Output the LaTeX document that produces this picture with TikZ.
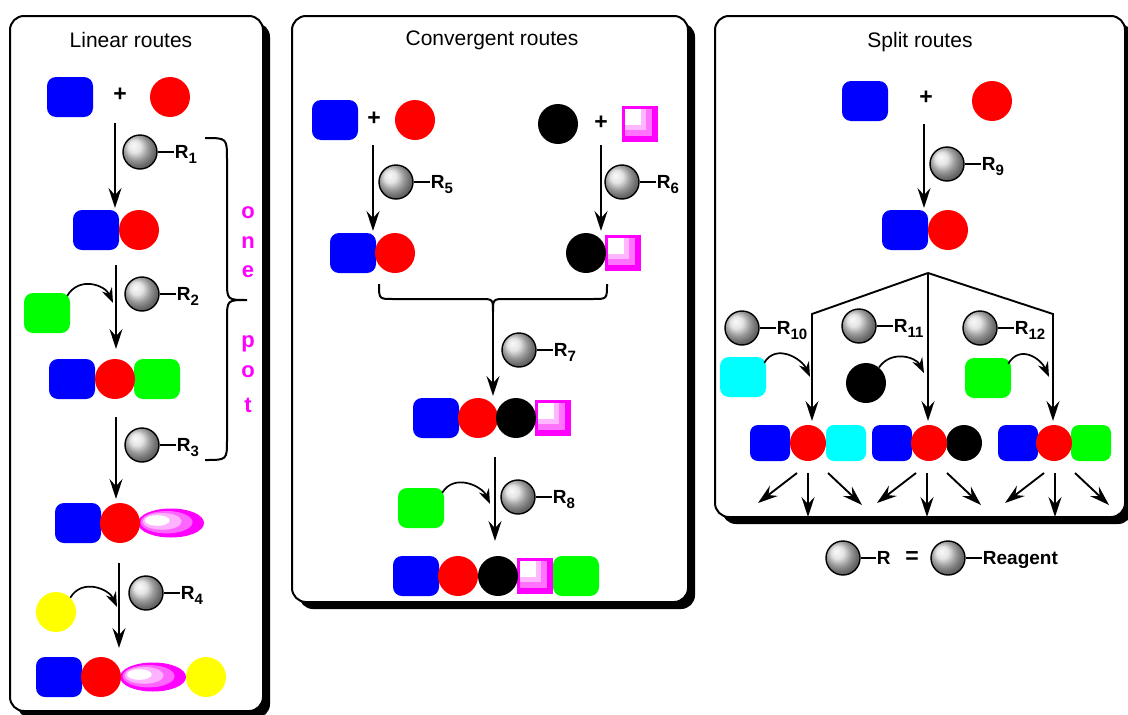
\documentclass[tikz,border=0pt]{standalone}
\usepackage{fontspec}
\setmainfont{Liberation Sans}
\usetikzlibrary{arrows.meta}
\usetikzlibrary{calc}
\usetikzlibrary{positioning}
\usetikzlibrary{shapes.geometric}

\definecolor{mblue}{RGB}{0,0,255}
\definecolor{mred}{RGB}{255,0,0}
\definecolor{mgreen}{RGB}{0,255,0}
\definecolor{mcyan}{RGB}{0,255,255}
\definecolor{myellow}{RGB}{255,255,0}
\definecolor{mmag}{RGB}{255,0,255}

\newcommand{\Rs}[1]{R\rlap{\smash{\raisebox{-5pt}{\fontsize{15}{15}\selectfont #1}}}}

\tikzset{
  blk/.style={rectangle, rounded corners=9pt, minimum width=46pt, minimum height=40pt, inner sep=0pt},
  sblk/.style={blk, rounded corners=8pt, minimum width=40pt, minimum height=36pt},
  dot/.style={circle, minimum size=40pt, inner sep=0pt},
  sdot/.style={dot, minimum size=36pt},
  ball/.style={circle, draw, line width=1.4pt, minimum size=34pt, inner sep=0pt, ball color=gray!28},
  msq/.style={rectangle, minimum size=34pt, inner sep=0pt, draw=mmag, line width=1.6pt, fill=mmag,
    path picture={
      \foreach \s/\c in {0.84/55, 0.68/28, 0.52/0}{
        \fill[mmag!\c] ([shift={(2,2)}]path picture bounding box.north west) rectangle
          ($(path picture bounding box.north west)!\s!(path picture bounding box.south east)$);
      }}},
  oval/.style={ellipse, minimum width=65pt, minimum height=28pt, inner sep=0pt, draw=mmag, line width=1pt, fill=mmag,
    path picture={
      \foreach \t/\c in {0.8/60, 0.6/30, 0.38/0}{
        \fill[mmag!\c] ($(path picture bounding box.center)+({-(1-\t)*22},{-(1-\t)*4})$)
          ellipse [x radius=\t*32.5pt, y radius=\t*14pt];
      }}},
  rlab/.style={font=\fontsize{19}{22}\selectfont\bfseries, inner sep=1pt, text depth=0pt},
  plus/.style={font=\fontsize{23}{26}\selectfont\bfseries, inner sep=0pt},
  title/.style={font=\fontsize{21}{25}\selectfont},
  pot/.style={font=\fontsize{22}{24}\selectfont\bfseries, text=mmag, anchor=base, inner sep=0pt},
  rxn/.style={line width=1.9pt, -{Stealth[length=20pt,width=13pt,inset=7pt]}},
  curv/.style={line width=1.7pt, -{Stealth[length=15pt,width=11pt,inset=5pt]}},
  tail/.style={line width=1.6pt},
  panel/.style={line width=2pt, rounded corners=14pt, fill=white},
  brc/.style={line width=2pt}
}

\begin{document}
\begin{tikzpicture}[x=1pt,y=-1pt]
\useasboundingbox (0,0) rectangle (1128,715);

% frames with shadow
\foreach \xa/\ya/\xb/\yb in {10/16/263/711, 292/16/688/602, 715/16/1125/517}{
  \fill[rounded corners=14pt] (\xa+7,\ya+7) rectangle (\xb+7,\yb+7);
  \draw[panel] (\xa,\ya) rectangle (\xb,\yb);
}

\node[title] (t1) at (131,40) {Linear routes};
\node[title] (t2) at (492,40) {Convergent routes};
\node[title] (t3) at (920,42) {Split routes};

% reagents
\foreach \n/\x/\y in {1/140/152, 2/142/294, 3/142/445, 4/146/593,
                      5/396/182, 6/622/182, 7/519/350, 8/518/497,
                      9/947/164, 10/742/328, 11/859/326, 12/980/328}{
  \node[ball] (b\n) at (\x,\y) {};
  \node[rlab, right=16pt of b\n] (r\n) {\Rs{\n}};
  \draw[tail] (b\n) -- (r\n);
}

%% linear
\node[blk, fill=mblue] (l1b) at (70,97) {};
\node[plus] (l1p) at (120,95) {+};
\node[dot, fill=mred] (l1r) at (170,97) {};

\node[blk, fill=mblue] (l2b) at (96,230) {};
\node[dot, fill=mred] (l2r) at (139,230) {};

\node[blk, fill=mgreen] (l3g) at (47,313) {};
\node[blk, fill=mblue] (l3b) at (72,379) {};
\node[blk, fill=mgreen] (l3c) at (157,379) {};
\node[dot, fill=mred] (l3r) at (115,379) {};

\node[blk, fill=mblue] (l4b) at (78,523) {};
\node[oval] (l4o) at (171,523) {};
\node[dot, fill=mred] (l4r) at (120,523) {};

\node[dot, fill=myellow] (l5y) at (56,612) {};
\node[blk, fill=mblue] (l6b) at (59,677) {};
\node[oval] (l6o) at (153,677) {};
\node[dot, fill=mred] (l6r) at (101,677) {};
\node[dot, fill=myellow] (l6y) at (206,677) {};

\coordinate (a1s) at (115,123); \coordinate (a1e) at (115,208);
\coordinate (a2s) at (116,265); \coordinate (a2e) at (116,349);
\coordinate (a3s) at (116,417); \coordinate (a3e) at (116,499);
\coordinate (a4s) at (119,563); \coordinate (a4e) at (119,648);
\draw[rxn] (a1s) -- (a1e);
\draw[rxn] (a2s) -- (a2e);
\draw[rxn] (a3s) -- (a3e);
\draw[rxn] (a4s) -- (a4e);

\coordinate (c2) at (113,303);
\coordinate (c4) at (117,607);
\draw[curv] ([shift={(-3,3)}]l3g.north east) .. controls +(12,-20) and +(-8,-18) .. (c2);
\draw[curv] (l5y.45) .. controls +(12,-20) and +(-8,-18) .. (c4);

% one pot
\draw[brc] (205,138) .. controls (227,138) .. (227,160) -- (227,280)
  .. controls (227,300) .. (247,300) .. controls (227,300) .. (227,320)
  -- (227,440) .. controls (227,460) .. (205,460);
\foreach \ch/\yy [count=\i] in {o/218, n/248, e/277, p/347, o/377, t/412}
  \node[pot] (op\i) at (248,\yy) {\ch};

%% convergent
\node[blk, fill=mblue] (c1b) at (335,120) {};
\node[plus] (c1p) at (374,119) {+};
\node[dot, fill=mred] (c1r) at (415,120) {};
\node[dot, fill=black] (c1k) at (558,124) {};
\node[plus] (c1q) at (601,123) {+};
\node[msq] (c1m) at (640,124) {};

\node[blk, fill=mblue] (c2b) at (353,253) {};
\node[dot, fill=mred] (c2r) at (395,253) {};
\node[msq] (c2m) at (623,253) {};
\node[dot, fill=black] (c2k) at (586,253) {};

\node[blk, fill=mblue] (c3b) at (436,418) {};
\node[dot, fill=mred] (c3r) at (478,418) {};
\node[msq] (c3m) at (553,418) {};
\node[dot, fill=black] (c3k) at (516,418) {};

\node[blk, fill=mgreen] (c4g) at (421,508) {};

\node[blk, fill=mblue] (c5b) at (416,576) {};
\node[dot, fill=mred] (c5r) at (458,576) {};
\node[msq] (c5m) at (535,576) {};
\node[dot, fill=black] (c5k) at (498,576) {};
\node[blk, fill=mgreen] (c5g) at (576,576) {};

\draw[brc] (379,284) .. controls (379,299) .. (393,299) -- (480,299)
  .. controls (493,299) .. (493,312) .. controls (493,299) .. (506,299)
  -- (593,299) .. controls (607,299) .. (607,284);
\coordinate (btip) at (493,312);

\coordinate (a5s) at (373,145); \coordinate (a5e) at (373,231);
\coordinate (a6s) at (601,145); \coordinate (a6e) at (601,231);
\coordinate (a7e) at (493,396);
\coordinate (a8s) at (495,457); \coordinate (a8e) at (495,541);
\draw[rxn] (a5s) -- (a5e);
\draw[rxn] (a6s) -- (a6e);
\draw[rxn] (btip) -- (a7e);
\draw[rxn] (a8s) -- (a8e);
\coordinate (c8) at (490,504);
\draw[curv] ([shift={(-2,5)}]c4g.north east) .. controls +(12,-20) and +(-8,-18) .. (c8);

%% split
\node[blk, fill=mblue] (s1b) at (865,101) {};
\node[plus] (s1p) at (926,98) {+};
\node[dot, fill=mred] (s1r) at (992,101) {};
\node[blk, fill=mblue] (s2b) at (905,230) {};
\node[dot, fill=mred] (s2r) at (948,230) {};

\coordinate (a9s) at (924,124); \coordinate (a9e) at (924,208);
\draw[rxn] (a9s) -- (a9e);

\coordinate (apex) at (928,273);
\coordinate (kL) at (812,314); \coordinate (kR) at (1053,314);
\coordinate (eL) at (812,421); \coordinate (eM) at (928,421); \coordinate (eR) at (1053,421);
\draw[rxn] (apex) -- (kL) -- (eL);
\draw[rxn] (apex) -- (eM);
\draw[rxn] (apex) -- (kR) -- (eR);

\node[blk, fill=mcyan] (s3c) at (743,377) {};
\node[dot, fill=black] (s3k) at (866,383) {};
\node[blk, fill=mgreen] (s3g) at (988,378) {};
\coordinate (c10) at (810,377);
\coordinate (c11) at (924,373);
\coordinate (c12) at (1049,377);
\draw[curv] ([shift={(-2,6)}]s3c.north east) .. controls +(12,-20) and +(-8,-18) .. (c10);
\draw[curv] (s3k.50) .. controls +(12,-18) and +(-8,-16) .. (c11);
\draw[curv] ([shift={(-3,6)}]s3g.north east) .. controls +(12,-20) and +(-8,-18) .. (c12);

\node[sblk, fill=mblue] (p1b) at (770,443) {};
\node[sblk, fill=mcyan] (p1c) at (846,443) {};
\node[sdot, fill=mred] (p1r) at (808,443) {};
\node[sblk, fill=mblue] (p2b) at (892,443) {};
\node[sdot, fill=black] (p2k) at (964,443) {};
\node[sdot, fill=mred] (p2r) at (929,443) {};
\node[sblk, fill=mblue] (p3b) at (1018,443) {};
\node[sblk, fill=mgreen] (p3g) at (1091,443) {};
\node[sdot, fill=mred] (p3r) at (1054,443) {};

\foreach \m [count=\i] in {808,927,1055}{
  \coordinate (ls\i) at (\m-11,473); \coordinate (le\i) at (\m-50,503);
  \coordinate (ms\i) at (\m,473);    \coordinate (me\i) at (\m,517);
  \coordinate (rs\i) at (\m+20,473); \coordinate (re\i) at (\m+54,505);
  \draw[rxn] (ls\i) -- (le\i);
  \draw[rxn] (ms\i) -- (me\i);
  \draw[rxn] (rs\i) -- (re\i);
}

% legend
\node[ball] (lg1) at (843,558) {};
\node[rlab, right=15pt of lg1] (lgr) {R};
\node[plus] (lgq) at (912,558) {=};
\node[ball] (lg2) at (948,558) {};
\node[rlab, right=16pt of lg2] (lgt) {Reagent};
\draw[tail] (lg1) -- (lgr);
\draw[tail] (lg2) -- (lgt);
\end{tikzpicture}
\end{document}
